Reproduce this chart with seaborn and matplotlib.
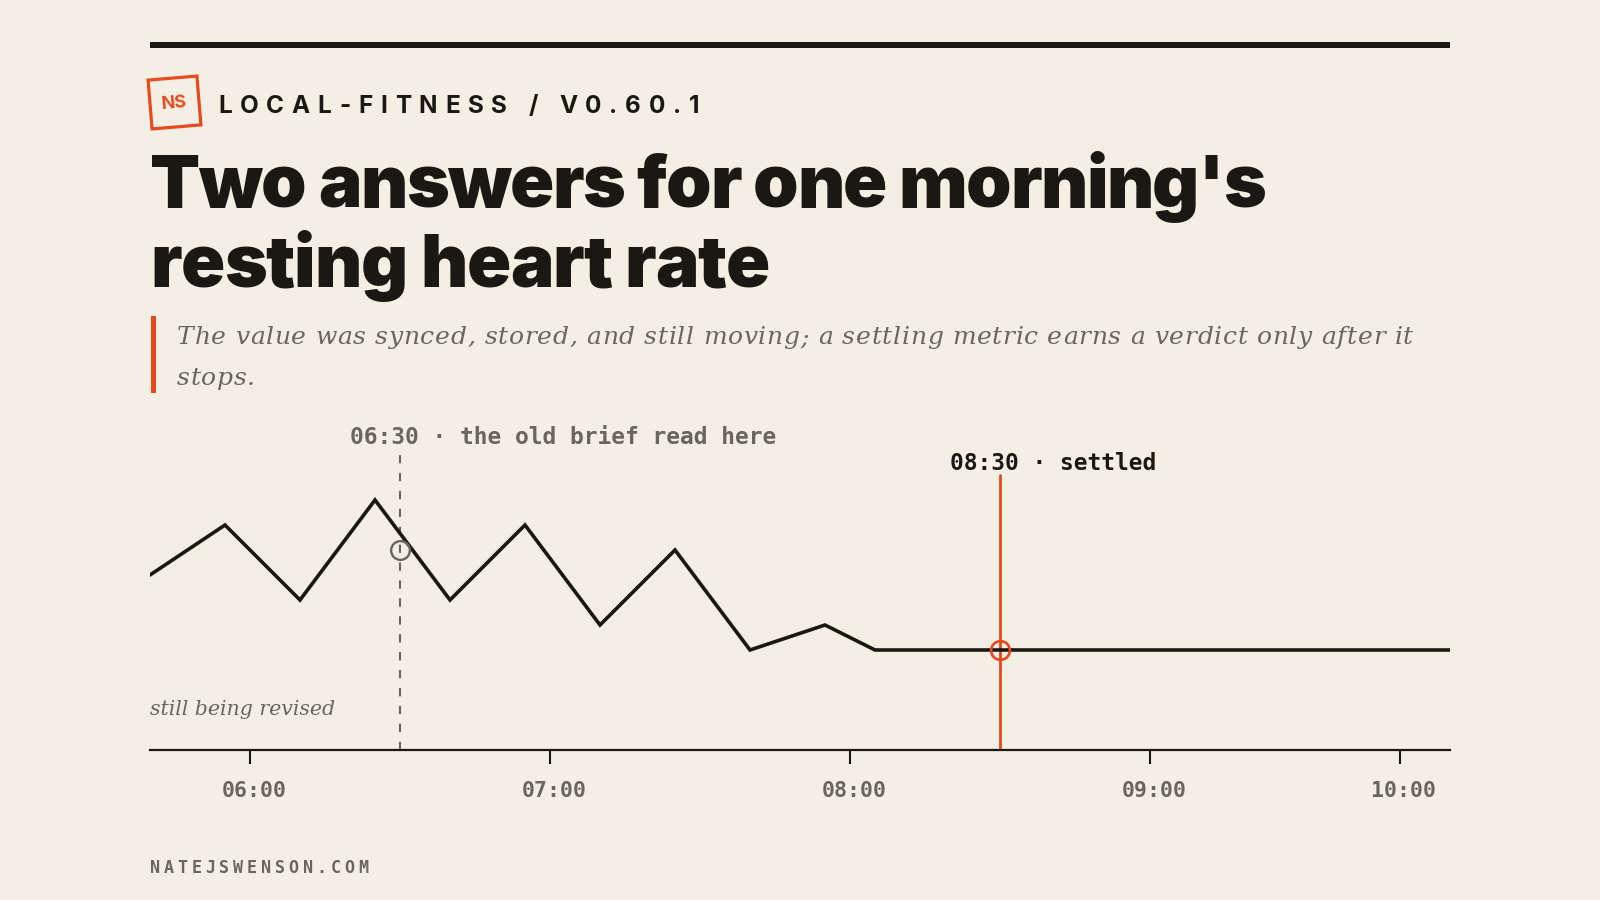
import matplotlib
matplotlib.use("Agg")
import matplotlib.pyplot as plt
import matplotlib.transforms as mtransforms
import pandas as pd
import seaborn as sns
from matplotlib import font_manager
from matplotlib.font_manager import FontProperties
from matplotlib.ft2font import FT2Font
from matplotlib.patches import Rectangle

W, H, DPI = 1600, 900, 100
PAPER = "#f3efe5"
INK = "#1b1712"
RUST = "#e84a1e"
MUTED = "#6b665b"

# heart-rate readings as they were revised through the morning
read_times = ["05:40", "05:55", "06:10", "06:25", "06:40", "06:55",
              "07:10", "07:25", "07:40", "07:55", "08:05", "10:00"]
read_bpm = [55, 57, 54, 58, 54, 57, 53, 56, 52, 53, 52, 52]

old_read_time, old_read_bpm = "06:30", 56
settled_time, settled_bpm = "08:30", 52

tick_times = ["06:00", "07:00", "08:00", "09:00", "09:50"]
tick_labels = ["06:00", "07:00", "08:00", "09:00", "10:00"]

x_range = ("05:40", "10:00")
y_range = (48, 60)
settled_top = 59

kicker = "LOCAL-FITNESS / V0.60.1"
title_lines = ["Two answers for one morning's", "resting heart rate"]
subtitle_lines = ["The value was synced, stored, and still moving; a settling metric "
                  "earns a verdict only after it", "stops."]
old_label = "06:30 \u00b7 the old brief read here"
settled_label = "08:30 \u00b7 settled"
revised_label = "still being revised"
footer = "NATEJSWENSON.COM"


def hours(hhmm):
    h, m = hhmm.split(":")
    return int(h) + int(m) / 60


sns.set_theme(style="white", rc={"figure.facecolor": PAPER, "axes.facecolor": PAPER,
                                 "savefig.facecolor": PAPER})
plt.rcParams["font.family"] = ["DejaVu Sans"]

MONO = "DejaVu Sans Mono"
SERIF = "DejaVu Serif"
SANS = "Inter"

fig = plt.figure(figsize=(W / DPI, H / DPI), dpi=DPI)

# full-figure layer in pixel units (y grows downward) for the header/footer
deco = fig.add_axes([0, 0, 1, 1], zorder=0)
deco.set_xlim(0, W)
deco.set_ylim(H, 0)
deco.axis("off")


def glyph_advances(text, prop):
    font = FT2Font(font_manager.findfont(prop))
    font.set_size(prop.get_size_in_points(), DPI)
    return [font.load_char(ord(c)).linearHoriAdvance / 65536 for c in text]


def tracked(x, y, text, prop, color, width=None, track=0.0):
    adv = glyph_advances(text, prop)
    if width is not None:
        track = (width - sum(adv)) / (len(text) - 1)
    for c, a in zip(text, adv):
        if c != " ":
            deco.text(x, y, c, fontproperties=prop, color=color, ha="left", va="baseline")
        x += a + track


# top rule
deco.add_patch(Rectangle((150, 42), 1300, 6, color=INK, lw=0))

# logo
deco.add_patch(Rectangle((150, 78), 49, 49, angle=-4.7, rotation_point="center",
                         fill=False, ec=RUST, lw=2.3))
deco.text(174.5, 103, "NS", fontproperties=FontProperties(family=SANS, weight="bold", size=13),
          color=RUST, ha="center", va="center", rotation=4.7)

tracked(218, 113, kicker, FontProperties(family=SANS, weight="bold", size=17.5), INK, width=481)

title_prop = FontProperties(family=SANS, weight="black", size=52.5)
tracked(150, 208, title_lines[0], title_prop, INK, width=1116)
tracked(150, 287, title_lines[1], title_prop, INK, width=620)

deco.add_patch(Rectangle((151, 316), 5, 77, color=RUST, lw=0))
sub_prop = FontProperties(family=SERIF, style="italic", size=18)
tracked(177, 344, subtitle_lines[0], sub_prop, MUTED, width=1236)
tracked(177, 385, subtitle_lines[1], sub_prop, MUTED, track=0.7)

tracked(150, 873, footer, FontProperties(family=MONO, weight="bold", size=12), MUTED, width=218)

# chart
ax = fig.add_axes([150 / W, 150 / H, 1300 / W, 300 / H], zorder=1)
ax.patch.set_visible(False)

df = pd.DataFrame({"time": [hours(t) for t in read_times], "bpm": read_bpm})
sns.lineplot(data=df, x="time", y="bpm", ax=ax, color=INK, lw=2.6,
             solid_joinstyle="miter", zorder=3)

x_old = hours(old_read_time)
x_set = hours(settled_time)
ax.axvline(x_old, color=MUTED, lw=1.5, ls=(0, (4, 4.6)), zorder=2)
ax.axvline(x_set, ymax=(settled_top - y_range[0]) / (y_range[1] - y_range[0]),
           color=RUST, lw=2, zorder=2)
ax.plot([x_old], [old_read_bpm], marker="o", ms=13.5, mfc="none", mec=MUTED, mew=1.7, zorder=4)
ax.plot([x_set], [settled_bpm], marker="o", ms=13.5, mfc="none", mec=RUST, mew=1.9, zorder=4)

mono_bold = dict(family=MONO, weight="bold", size=16.5)
ax.annotate(old_label, xy=(x_old, y_range[1]), xytext=(-50, 12), textcoords="offset pixels",
            ha="left", va="center", color=MUTED, annotation_clip=False, **mono_bold)
ax.annotate(settled_label, xy=(x_set, settled_top), xytext=(-50, 12), textcoords="offset pixels",
            ha="left", va="center", color=INK, annotation_clip=False, **mono_bold)
ax.text(0, 35 / 300, revised_label, transform=ax.transAxes, family=SERIF, style="italic",
        size=14.8, color=MUTED, ha="left", va="baseline")

ax.set_xlim(hours(x_range[0]), hours(x_range[1]))
ax.set_ylim(*y_range)
ax.set_xticks([hours(t) for t in tick_times])
ax.set_xticklabels(tick_labels, family=MONO, weight="bold", size=15.5, color=MUTED)
ax.set_yticks([])
ax.set_xlabel("")
ax.set_ylabel("")
for side in ["top", "left", "right"]:
    ax.spines[side].set_visible(False)
ax.spines["bottom"].set_color(INK)
ax.spines["bottom"].set_linewidth(1.6)
ax.tick_params(axis="x", bottom=True, length=10, width=1.5, color=INK, pad=12)

# labels sit a few pixels right of their ticks in the original
shift = mtransforms.ScaledTranslation(4 / DPI, 0, fig.dpi_scale_trans)
for lab in ax.get_xticklabels():
    lab.set_transform(lab.get_transform() + shift)

fig.savefig("out.png", dpi=DPI)
